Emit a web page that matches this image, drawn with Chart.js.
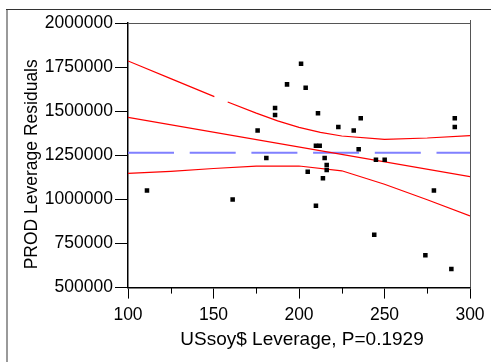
<!DOCTYPE html>
<html><head><meta charset="utf-8">
<style>html,body{margin:0;padding:0;background:#fff;} #wrap{position:relative;width:491px;height:362px;}</style>
<script src="https://cdn.jsdelivr.net/npm/chart.js@4/dist/chart.umd.min.js"></script>
</head><body><div id="wrap"><canvas id="c" width="491" height="362"></canvas></div>
<script>
// Leverage points (x = USsoy$ leverage, y = PROD leverage residual)
const pointX = [111.1, 161.2, 175.8, 180.9, 186.0, 186.0, 193.0, 201.2, 203.9, 205.1,
                209.9, 212.1, 211.1, 209.9, 214.0, 215.0, 216.2, 216.2, 223.0, 232.0,
                234.9, 236.1, 244.0, 245.0, 250.1, 273.9, 278.9, 289.1, 291.1, 291.1];
const pointY = [1050000, 1000000, 1390000, 1235000, 1518000, 1478000, 1652000, 1769000, 1633000, 1157000,
                1304000, 1304000, 1488000, 964000, 1120000, 1235000, 1195000, 1167000, 1410000, 1390000,
                1284000, 1460000, 800000, 1225000, 1225000, 683000, 1050000, 605000, 1460000, 1410000];
// Fitted line
const fitX = [100, 300];
const fitY = [1465500, 1129000];
// Upper confidence curve (with the visible gap)
const upperX = [100, 125, 150.5, 154, 158.3, 175, 187.5, 200, 212.5, 225, 250, 275, 300];
const upperY = [1784750, 1684400, 1582340, null, 1552290, 1488790, 1445000, 1408280, 1380000, 1359520, 1340820, 1348190, 1361230];
// Lower confidence curve
const lowerX = [100, 125, 150, 175, 200, 225, 250, 275, 300];
const lowerY = [1148050, 1159390, 1175260, 1188300, 1189430, 1162220, 1085680, 997800, 905950];
// Mean residual (horizontal dashed line)
const meanX = [100, 300];
const meanY = [1265000, 1265000];
// Tick labels
const xTickVals = [100, 150, 200, 250, 300];
const xMinorTicks = [125, 175, 225, 275];
const yTickVals = [500000, 750000, 1000000, 1250000, 1500000, 1750000, 2000000];

const zip = (xs, ys) => xs.map((x, i) => ({x: x, y: ys[i]}));
const FONT = "'Liberation Sans', Arial, sans-serif";

function shiftTitle(s, dx, dy) {
  if (s._titleShifted) return;
  const orig = s.drawTitle;
  s.drawTitle = function () {
    this.ctx.save();
    this.ctx.translate(dx, dy);
    orig.apply(this, arguments);
    this.ctx.restore();
  };
  s._titleShifted = true;
}

const framePlugin = {
  id: 'frame',
  beforeDraw(chart) {
    const ctx = chart.ctx;
    ctx.save();
    ctx.strokeStyle = '#9a9a9a';
    ctx.lineWidth = 2;
    ctx.beginPath(); ctx.moveTo(7, 9); ctx.lineTo(7, 362); ctx.stroke();
    ctx.strokeStyle = '#333';
    ctx.lineWidth = 1;
    ctx.beginPath(); ctx.moveTo(6, 9.5); ctx.lineTo(491, 9.5); ctx.stroke();
    ctx.restore();
  },
  afterDatasetsDraw(chart) {
    const ctx = chart.ctx;
    const a = chart.chartArea;
    const xs = chart.scales.x;
    ctx.save();
    ctx.strokeStyle = '#555';
    ctx.lineWidth = 1;
    ctx.beginPath();
    ctx.moveTo(a.left, a.top + 0.5); ctx.lineTo(a.right + 0.5, a.top + 0.5);
    ctx.moveTo(a.right + 0.5, a.top - 3); ctx.lineTo(a.right + 0.5, a.bottom);
    ctx.stroke();
    ctx.strokeStyle = '#000';
    ctx.beginPath();
    xMinorTicks.forEach(v => {
      const px = Math.round(xs.getPixelForValue(v)) + 0.5;
      ctx.moveTo(px, a.bottom); ctx.lineTo(px, a.bottom + 6);
    });
    ctx.stroke();
    ctx.restore();
  }
};

new Chart(document.getElementById('c'), {
  type: 'scatter',
  data: {
    datasets: [
      { label: 'points', data: zip(pointX, pointY), showLine: false, pointStyle: 'rect',
        pointRadius: 3.2, pointBorderWidth: 0, backgroundColor: '#000', borderColor: '#000', order: 0 },
      { label: 'fit', data: zip(fitX, fitY), showLine: true, pointRadius: 0, borderColor: '#ff0000',
        borderWidth: 1.2, order: 2 },
      { label: 'upper', data: zip(upperX, upperY), showLine: true, spanGaps: false, pointRadius: 0,
        borderColor: '#ff0000', borderWidth: 1.2, order: 2 },
      { label: 'lower', data: zip(lowerX, lowerY), showLine: true, pointRadius: 0, borderColor: '#ff0000',
        borderWidth: 1.2, order: 2 },
      { label: 'mean', data: zip(meanX, meanY), showLine: true, pointRadius: 0, borderColor: '#8080ff',
        borderWidth: 2, borderDash: [46, 15.7], order: 3 }
    ]
  },
  options: {
    responsive: false,
    animation: false,
    devicePixelRatio: 1,
    layout: { padding: { top: 23, right: 21, left: 0, bottom: 0 } },
    plugins: { legend: { display: false }, tooltip: { enabled: false } },
    scales: {
      x: {
        type: 'linear', position: 'bottom', min: 100, max: 300,
        afterBuildTicks: s => { s.ticks = xTickVals.map(v => ({value: v})); },
        afterFit: s => { s.height = 74.4; shiftTitle(s, 3, 0); },
        grid: { drawOnChartArea: false, drawTicks: true, tickLength: 11, color: '#000', tickColor: '#000' },
        border: { display: true, color: '#000', width: 1.5 },
        ticks: { color: '#000', font: { family: FONT, size: 17.5 }, padding: 6, maxRotation: 0, autoSkip: false,
                 callback: v => String(v) },
        title: { display: true, text: 'USsoy$ Leverage, P=0.1929', color: '#000',
                 font: { family: FONT, size: 19 }, padding: { top: 0, bottom: 11 } }
      },
      y: {
        type: 'linear', position: 'left', min: 500000, max: 2000000,
        afterBuildTicks: s => { s.ticks = yTickVals.map(v => ({value: v})); },
        afterFit: s => { s.width = 128; shiftTitle(s, 0, 9); },
        grid: { drawOnChartArea: false, drawTicks: true, tickLength: 13, color: '#000', tickColor: '#000' },
        border: { display: true, color: '#000', width: 1.5 },
        ticks: { color: '#000', font: { family: FONT, size: 17.5 }, padding: 2, autoSkip: false,
                 callback: v => String(v) },
        title: { display: true, text: 'PROD Leverage Residuals', color: '#000',
                 font: { family: FONT, size: 17.5 }, padding: { top: 22, bottom: 0 } }
      }
    }
  },
  plugins: [framePlugin]
});
</script>
</body></html>
